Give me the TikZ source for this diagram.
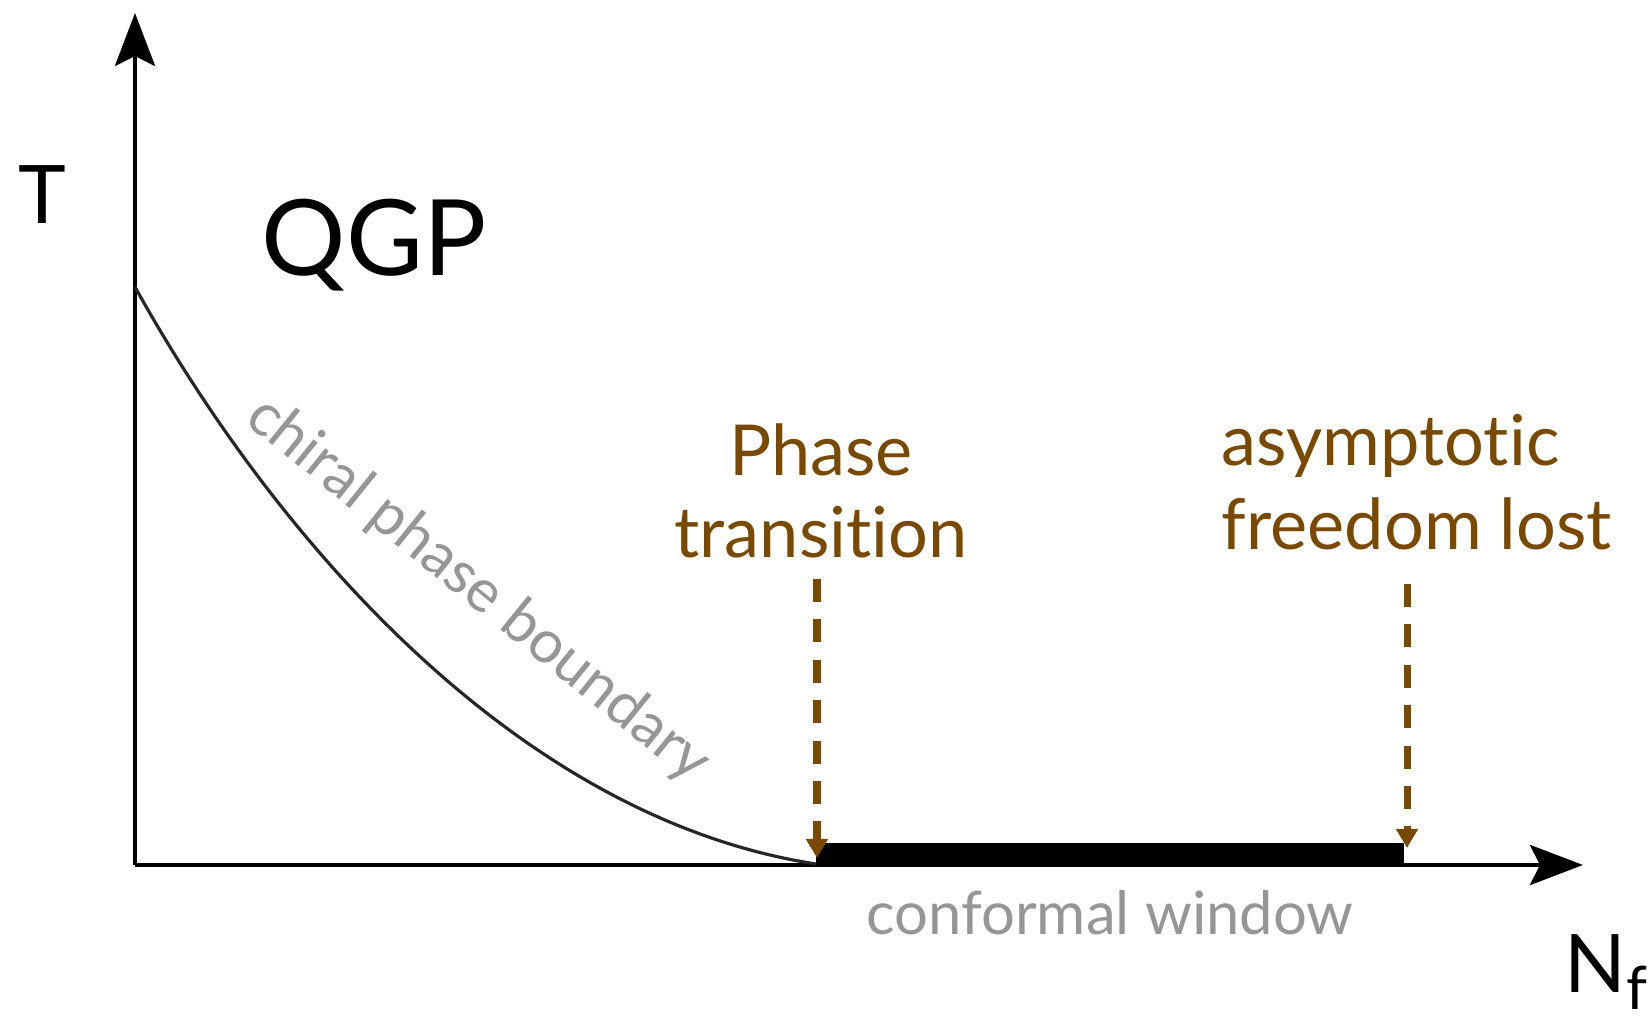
\documentclass[tikz,border=0pt]{standalone}
\usepackage{xcolor}
\usepackage{fontspec}
\setmainfont{Lato}[Ligatures={NoCommon}]
\usepackage{tikz}
\usetikzlibrary{positioning, calc, arrows.meta}
\definecolor{transbrown}{RGB}{122,73,0}
\definecolor{labelgray}{RGB}{150,150,150}
\tikzset{
    axisline/.style={line width=1.4pt, -{Stealth[length=5.3mm, width=4mm, inset=1mm]}},
    boundline/.style={line width=0.9pt, black!85},
    marker/.style={transbrown, line width=2pt, dash pattern=on 6.5pt off 5pt, -{Triangle[length=1.9mm, width=2.1mm]}},
    browntext/.style={transbrown, font=\fontsize{20}{24}\selectfont, inner sep=0pt},
    graytext/.style={labelgray, font=\fontsize{17}{20}\selectfont, inner sep=0pt}
}

\begin{document}
\begin{tikzpicture}
    \useasboundingbox (0,0) rectangle (16.51,10.17);
    \coordinate (origin) at (1.35,1.52);
    \coordinate (ytip) at (1.35,10.04);
    \coordinate (xtip) at (15.83,1.52);
    \coordinate (tcstart) at (1.35,7.30);
    \coordinate (tcend) at (8.16,1.53);
    \coordinate (cwend) at (14.04,1.52);
    \draw[axisline] (origin) -- (ytip);
    \draw[axisline] (origin) -- (xtip);
    \draw[boundline] (tcstart) .. controls (2.75,4.78) and (5.17,1.99) .. (tcend);
    \fill (8.16,1.52) rectangle ($(cwend)+(0,0.22)$);
    \node[anchor=base, font=\fontsize{23}{27}\selectfont, inner sep=0pt] (tlabel) at (0.42,7.93) {T};
    \node[anchor=base west, font=\fontsize{30}{36}\selectfont, inner sep=0pt] (qgp) at (2.61,7.41) {QGP};
    \node[anchor=base west, font=\fontsize{23}{27}\selectfont, inner sep=0pt] (nf) at (15.64,0.24) {N{\fontsize{17}{20}\selectfont\raisebox{-0.17cm}{f}}};
    \node[graytext, rotate=-39] (chiral) at (4.78,4.27) {chiral phase boundary};
    \node[graytext, anchor=base] (cwin) at (11.10,0.82) {conformal window};
    \node[browntext, anchor=base] (phase) at (8.21,5.41) {Phase};
    \node[browntext, anchor=base] (trans) at ($(phase.base)+(0,-0.82)$) {transition};
    \node[browntext, anchor=base west] (asym) at (12.21,5.51) {asymptotic};
    \node[browntext, anchor=base west] (free) at ($(asym.base west)+(0,-0.84)$) {freedom lost};
    \coordinate (ptstart) at (8.17,4.38);
    \coordinate (ptend) at (8.17,1.59);
    \coordinate (afstart) at (14.07,4.33);
    \coordinate (afend) at (14.07,1.69);
    \draw[marker] (ptstart) -- (ptend);
    \draw[marker] (afstart) -- (afend);
\end{tikzpicture}
\end{document}
